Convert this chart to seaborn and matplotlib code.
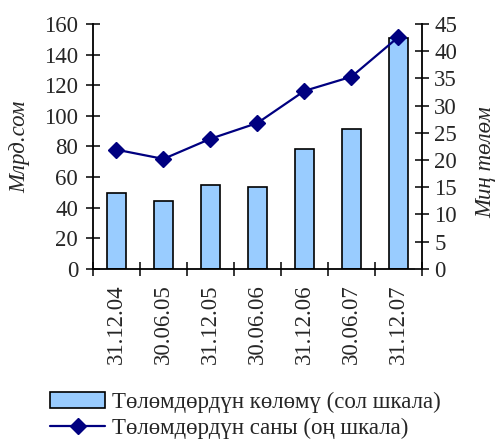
import numpy as np
import pandas as pd
import matplotlib
matplotlib.use("Agg")
import matplotlib.pyplot as plt
import seaborn as sns
from matplotlib.ticker import FixedLocator

dates = ["31.12.04", "30.06.05", "31.12.05", "30.06.06", "31.12.06", "30.06.07", "31.12.07"]
volume = [49.5, 44.5, 55.0, 53.5, 78.0, 91.5, 151.0]   # billion som, left scale
count = [21.9, 20.2, 23.9, 26.8, 32.7, 35.3, 42.6]      # thousand payments, right scale

bar_label = "Төлөмдөрдүн көлөмү (сол шкала)"
line_label = "Төлөмдөрдүн саны (оң шкала)"

sns.set_style("white")
plt.rcParams['font.family'] = ['Liberation Serif', 'DejaVu Serif']
fs = 16.5

df = pd.DataFrame({"date": dates, "volume": volume, "count": count})

fig = plt.figure(figsize=(4.97, 4.43), dpi=100)
ax = fig.add_axes([0.187, 0.393, 0.662, 0.553])

sns.barplot(data=df, x="date", y="volume", ax=ax, color="#99CCFF",
            edgecolor="black", linewidth=1.2, width=0.4, saturation=1,
            label=bar_label)
if ax.get_legend() is not None:
    ax.get_legend().remove()

ax2 = ax.twinx()
ax2.plot(np.arange(len(dates)), df["count"], color="#000080", marker="D",
         markersize=8, linewidth=1.6, label=line_label)

ax.set_xlim(-0.5, len(dates) - 0.5)
ax.set_ylim(0, 160)
ax.set_yticks(range(0, 161, 20))
ax2.set_ylim(0, 45)
ax2.set_yticks(range(0, 46, 5))

for a in (ax, ax2):
    for s in a.spines.values():
        s.set_visible(False)
    a.grid(False)
ax.spines['left'].set_visible(True)
ax.spines['bottom'].set_visible(True)
ax2.spines['right'].set_visible(True)
for s in (ax.spines['left'], ax.spines['bottom'], ax2.spines['right']):
    s.set_linewidth(1.3)
    s.set_color("black")

ax.tick_params(axis='y', direction='inout', length=9.5, width=1.3, labelsize=fs, pad=6, left=True)
ax2.tick_params(axis='y', direction='inout', length=9.5, width=1.3, labelsize=fs, pad=4, right=True)
ax.set_xticks(range(len(dates)))
ax.set_xticklabels(dates, rotation=90)
ax.tick_params(axis='x', which='major', length=0, labelsize=fs, pad=11)
ax.xaxis.set_minor_locator(FixedLocator(np.arange(-0.5, len(dates), 1.0)))
ax.tick_params(axis='x', which='minor', direction='inout', length=9.5, width=1.3, bottom=True)

ax.set_xlabel("")
ax.set_ylabel("Млрд.сом", style="italic", fontsize=fs)
ax.yaxis.set_label_coords(-0.19, 0.5)
ax2.set_ylabel("Миң төлөм", style="italic", fontsize=fs)
ax2.yaxis.set_label_coords(1.163, 0.437)

h1, l1 = ax.get_legend_handles_labels()
h2, l2 = ax2.get_legend_handles_labels()
fig.legend(h1 + h2, l1 + l2, loc="upper left", bbox_to_anchor=(50 / 497, 1 - 392 / 443),
           frameon=False, fontsize=fs, handlelength=2.4, handletextpad=0.3,
           labelspacing=0.2, borderpad=0, borderaxespad=0)

fig.savefig("out.png", dpi=100)
